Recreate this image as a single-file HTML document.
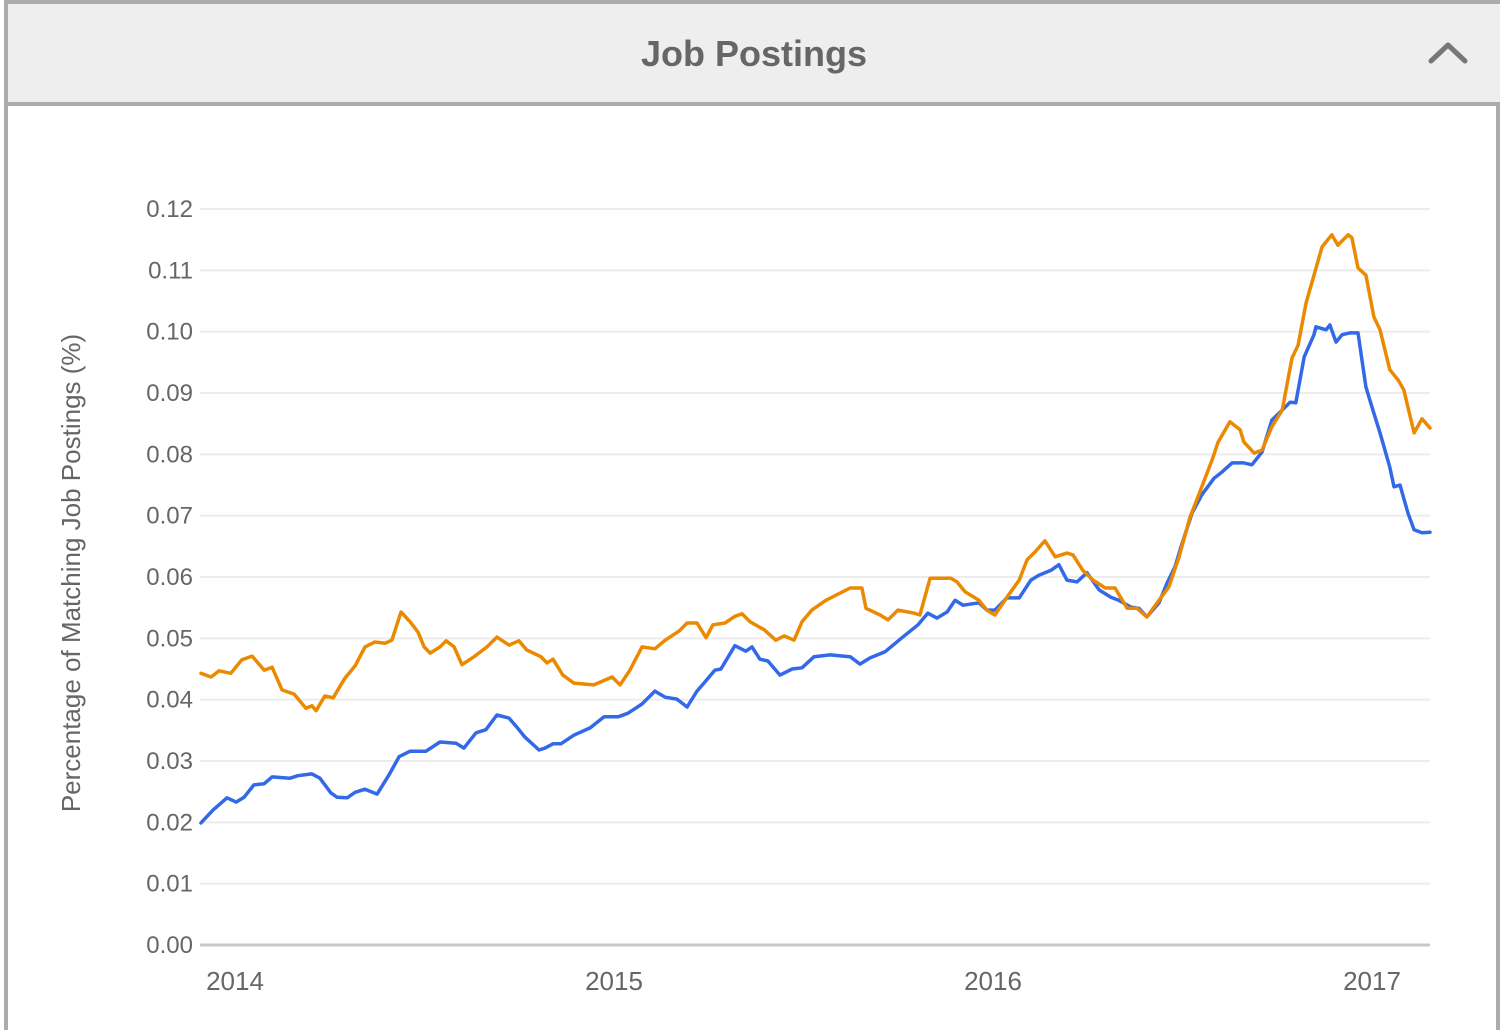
<!DOCTYPE html>
<html><head><meta charset="utf-8"><style>
html,body{margin:0;padding:0;background:#fff;}
body{width:1504px;height:1024px;position:relative;overflow:hidden;font-family:"Liberation Sans",Arial,sans-serif;}
#frame{position:absolute;left:4px;top:0;width:1496px;height:1030px;border:4px solid #acacac;border-bottom:none;box-sizing:border-box;}
#header{position:absolute;left:8px;top:4px;width:1492px;height:98px;background:#eeeeee;border-bottom:4px solid #acacac;}
#title{position:absolute;left:0;width:100%;top:29px;text-align:center;font-weight:bold;font-size:36px;color:#666;}
svg{position:absolute;left:0;top:0;}
</style></head><body>
<div id="frame"></div>
<div id="header">
<div id="title">Job Postings</div>
</div>
<svg width="1504" height="1024">
<polyline points="1431,61 1448,45 1465,61" fill="none" stroke="#777" stroke-width="5" stroke-linecap="round" stroke-linejoin="round"/>
<g id="grid"></g>
<g id="yt"></g>
<g id="xt"></g>
<text x="80" y="573" transform="rotate(-90 80 573)" text-anchor="middle" font-size="26" fill="#666">Percentage of Matching Job Postings (%)</text>
<g id="series"></g>
</svg>
<script>
const yTicks=[0,0.01,0.02,0.03,0.04,0.05,0.06,0.07,0.08,0.09,0.10,0.11,0.12];
const xTicks=[2014,2015,2016,2017];
const orangeT=[2013.910,2013.937,2013.958,2013.989,2014.018,2014.045,2014.077,2014.098,2014.124,2014.156,2014.187,2014.203,2014.214,2014.237,2014.259,2014.290,2014.317,2014.343,2014.369,2014.396,2014.414,2014.438,2014.462,2014.483,2014.499,2014.515,2014.541,2014.557,2014.578,2014.599,2014.631,2014.665,2014.691,2014.723,2014.749,2014.770,2014.807,2014.823,2014.839,2014.865,2014.894,2014.947,2014.995,2015.016,2015.042,2015.074,2015.108,2015.135,2015.172,2015.193,2015.219,2015.243,2015.261,2015.293,2015.319,2015.338,2015.359,2015.396,2015.427,2015.449,2015.475,2015.496,2015.522,2015.559,2015.623,2015.654,2015.665,2015.702,2015.723,2015.749,2015.792,2015.807,2015.834,2015.889,2015.905,2015.926,2015.963,2015.984,2016.005,2016.037,2016.069,2016.090,2016.111,2016.137,2016.164,2016.195,2016.211,2016.237,2016.264,2016.296,2016.322,2016.354,2016.380,2016.406,2016.438,2016.464,2016.491,2016.520,2016.546,2016.578,2016.594,2016.625,2016.652,2016.662,2016.689,2016.710,2016.736,2016.763,2016.789,2016.805,2016.826,2016.847,2016.868,2016.894,2016.910,2016.937,2016.947,2016.963,2016.984,2017.005,2017.021,2017.047,2017.069,2017.084,2017.111,2017.132,2017.153];
const orangeV=[0.0443,0.0437,0.0447,0.0443,0.0465,0.0471,0.0448,0.0453,0.0416,0.0409,0.0386,0.0390,0.0382,0.0406,0.0403,0.0435,0.0455,0.0486,0.0494,0.0492,0.0497,0.0543,0.0527,0.0510,0.0486,0.0476,0.0486,0.0496,0.0486,0.0457,0.0470,0.0486,0.0502,0.0489,0.0496,0.0481,0.0470,0.0460,0.0466,0.0440,0.0427,0.0424,0.0437,0.0424,0.0448,0.0486,0.0483,0.0497,0.0512,0.0525,0.0525,0.0501,0.0522,0.0525,0.0536,0.0540,0.0527,0.0514,0.0497,0.0504,0.0497,0.0527,0.0546,0.0562,0.0582,0.0582,0.0549,0.0538,0.0530,0.0546,0.0541,0.0538,0.0598,0.0598,0.0592,0.0576,0.0562,0.0546,0.0538,0.0567,0.0595,0.0628,0.0641,0.0659,0.0633,0.0639,0.0636,0.0611,0.0595,0.0582,0.0582,0.0549,0.0549,0.0535,0.0562,0.0584,0.0633,0.0698,0.0739,0.0791,0.0820,0.0853,0.0840,0.0820,0.0802,0.0807,0.0845,0.0872,0.0957,0.0978,0.1047,0.1092,0.1138,0.1158,0.1141,0.1158,0.1153,0.1104,0.1092,0.1024,0.1003,0.0938,0.0921,0.0905,0.0835,0.0858,0.0843];
const blueT=[2013.910,2013.942,2013.979,2014.003,2014.024,2014.050,2014.077,2014.098,2014.145,2014.166,2014.203,2014.224,2014.253,2014.269,2014.296,2014.317,2014.343,2014.375,2014.406,2014.433,2014.462,2014.504,2014.541,2014.583,2014.604,2014.636,2014.662,2014.691,2014.723,2014.744,2014.765,2014.802,2014.818,2014.839,2014.860,2014.894,2014.937,2014.974,2015.011,2015.037,2015.074,2015.108,2015.135,2015.166,2015.193,2015.219,2015.240,2015.266,2015.282,2015.319,2015.348,2015.364,2015.385,2015.406,2015.438,2015.470,2015.496,2015.528,2015.570,2015.623,2015.649,2015.675,2015.715,2015.760,2015.802,2015.828,2015.852,2015.879,2015.900,2015.921,2015.963,2015.984,2016.005,2016.037,2016.069,2016.100,2016.121,2016.153,2016.174,2016.195,2016.222,2016.248,2016.280,2016.311,2016.332,2016.364,2016.385,2016.406,2016.438,2016.459,2016.480,2016.496,2016.525,2016.551,2016.583,2016.604,2016.631,2016.662,2016.683,2016.710,2016.736,2016.763,2016.784,2016.799,2016.821,2016.847,2016.852,2016.879,2016.889,2016.905,2016.921,2016.942,2016.963,2016.984,2017.000,2017.021,2017.047,2017.058,2017.074,2017.095,2017.111,2017.132,2017.153];
const blueV=[0.0199,0.0220,0.0240,0.0233,0.0241,0.0261,0.0263,0.0274,0.0272,0.0276,0.0279,0.0272,0.0248,0.0241,0.0240,0.0249,0.0254,0.0246,0.0277,0.0307,0.0316,0.0316,0.0331,0.0329,0.0321,0.0346,0.0351,0.0375,0.0370,0.0355,0.0339,0.0318,0.0321,0.0328,0.0328,0.0342,0.0354,0.0372,0.0372,0.0378,0.0393,0.0414,0.0404,0.0401,0.0388,0.0414,0.0429,0.0448,0.0450,0.0488,0.0479,0.0486,0.0466,0.0463,0.0440,0.0450,0.0452,0.0470,0.0473,0.0470,0.0458,0.0468,0.0478,0.0501,0.0522,0.0541,0.0533,0.0543,0.0562,0.0554,0.0558,0.0546,0.0546,0.0566,0.0566,0.0595,0.0603,0.0611,0.0620,0.0595,0.0592,0.0607,0.0579,0.0567,0.0562,0.0551,0.0549,0.0535,0.0558,0.0590,0.0616,0.0649,0.0704,0.0734,0.0761,0.0771,0.0786,0.0786,0.0783,0.0804,0.0856,0.0872,0.0885,0.0884,0.0959,0.0995,0.1008,0.1003,0.1011,0.0983,0.0995,0.0998,0.0998,0.0910,0.0877,0.0835,0.0779,0.0747,0.0750,0.0704,0.0677,0.0672,0.0673];

const NS='http://www.w3.org/2000/svg';
const X0=200,X1=1430;
function xs(t){return 235+379*(t-2014);}
function ys(v){return 945-v*6133.33;}
function mk(tag,attrs,parent){const e=document.createElementNS(NS,tag);for(const k in attrs)e.setAttribute(k,attrs[k]);parent.appendChild(e);return e;}
const grid=document.getElementById('grid'),yt=document.getElementById('yt'),xt=document.getElementById('xt'),ser=document.getElementById('series');
yTicks.forEach(v=>{
  const y=ys(v);
  const l=mk('line',{x1:X0,x2:X1,y1:y,y2:y,stroke:v===0?'#c8c8c8':'#ececec','stroke-width':v===0?3:2},grid);
  
  
  const t=mk('text',{x:193,y:y+8,'text-anchor':'end','font-size':24,fill:'#666'},yt);
  t.textContent=v.toFixed(2);
  
  
});
xTicks.forEach(yr=>{
  const t=mk('text',{x:xs(yr),y:990,'text-anchor':'middle','font-size':26,fill:'#666'},xt);
  t.textContent=String(yr);
  
  
});
function line(T,V,color,name){
  const pts=T.map((t,i)=>xs(t).toFixed(1)+','+ys(V[i]).toFixed(1)).join(' ');
  const p=mk('polyline',{points:pts,fill:'none',stroke:color,'stroke-width':3.5,'stroke-linejoin':'round','stroke-linecap':'round'},ser);
  
  
}
line(blueT,blueV,'#3369e8','series-blue-line');
line(orangeT,orangeV,'#eb8a00','series-orange-line');
</script>
</body></html>
